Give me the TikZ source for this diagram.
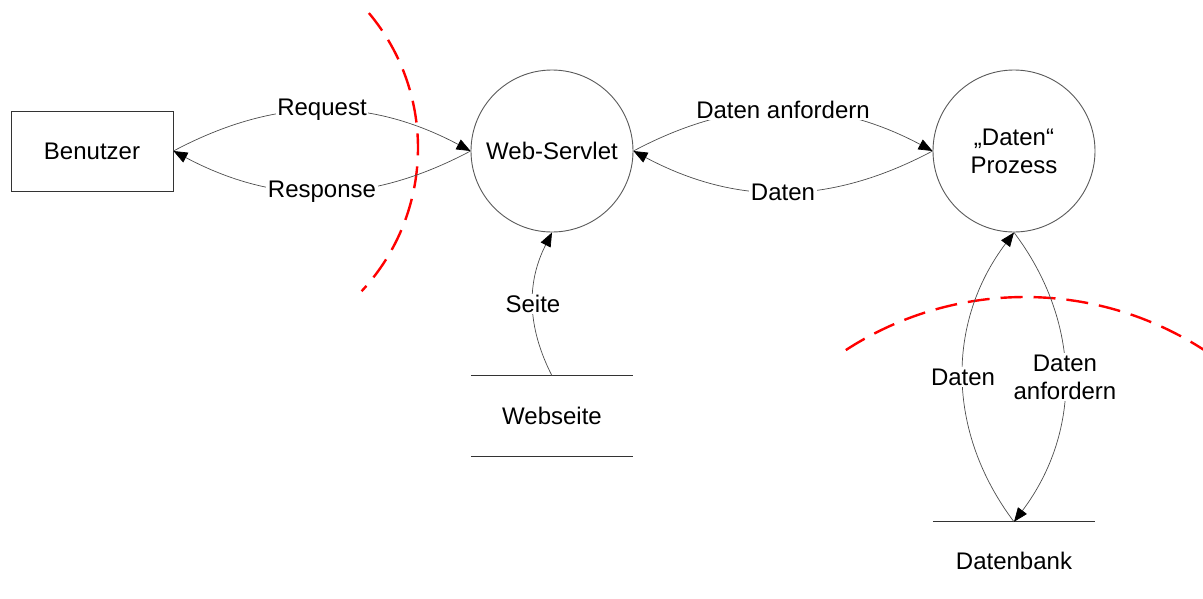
\documentclass[tikz,border=0pt]{standalone}
\usepackage{fontspec}
\setmainfont{Liberation Sans}
\usetikzlibrary{arrows.meta}
\begin{document}
\begin{tikzpicture}[x=1pt,y=1pt,
  every node/.style={font=\fontsize{24}{28}\selectfont, text=black},
  proc/.style={draw=black!65, line width=0.9pt, circle, minimum size=162pt, inner sep=0pt, align=center},
  ext/.style={draw=black!80, line width=0.9pt, rectangle, minimum width=162pt, minimum height=80pt, inner sep=0pt},
  store/.style={rectangle, minimum width=162pt, inner sep=0pt},
  storeline/.style={draw=black!80, line width=0.9pt},
  flow/.style={draw=black!70, line width=0.7pt, -{Triangle[length=14pt,width=11pt,color=black]}},
  lbl/.style={fill=white, inner sep=1.5pt, align=center},
  boundary/.style={draw=red, line width=2.4pt, dash pattern=on 22pt off 11pt}
]
\useasboundingbox (0,0) rectangle (1203,-598);

% nodes
\node[ext] (ben) at (92,-151) {Benutzer};
\node[proc] (ws) at (552,-151) {Web-Servlet};
\node[proc] (dp) at (1014,-151) {„Daten“\\Prozess};
\node[store, minimum height=80pt] (web) at (552,-416) {Webseite};
\node[store, minimum height=78pt] (db) at (1014,-561) {Datenbank};

\draw[storeline] (web.north west) -- (web.north east);
\draw[storeline] (web.south west) -- (web.south east);
\draw[storeline] (db.north west) -- (db.north east);

% boundaries
\draw[boundary] (208,-148) ++(40:210) arc[start angle=40, end angle=-43, radius=210];
\draw[boundary] (1025,-626) ++(123:329) arc[start angle=123, end angle=56, radius=329];

% flows
\draw[flow] (ben.east) to[bend left=28] node[lbl, midway] {Request} (ws.west);
\draw[flow] (ws.west) to[bend left=28] node[lbl, midway] {Response} (ben.east);
\draw[flow] (ws.east) to[bend left=28] node[lbl, midway] {Daten anfordern} (dp.west);
\draw[flow] (dp.west) to[bend left=28] node[lbl, midway] {Daten} (ws.east);
\draw[flow] (web.north) to[bend left=27] node[lbl, midway] {Seite} (ws.south);
\draw[flow] (db.north) to[bend left=37] node[lbl, midway] {Daten} (dp.south);
\draw[flow] (dp.south) to[bend left=37] node[lbl, midway] {Daten\\anfordern} (db.north);
\end{tikzpicture}
\end{document}
